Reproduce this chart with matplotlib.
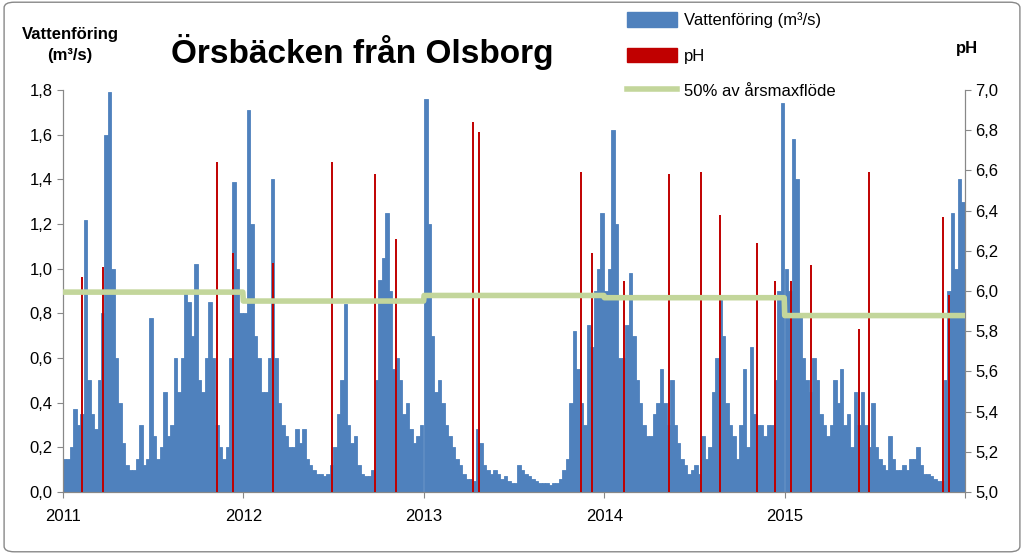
import numpy as np
import pandas as pd
import matplotlib
matplotlib.use("Agg")
import matplotlib.pyplot as plt
import matplotlib.dates as mdates
from matplotlib.patches import Patch, FancyBboxPatch
from matplotlib.lines import Line2D

years = [2011, 2012, 2013, 2014, 2015]
flow_2011 = [0.15,0.15,0.2,0.37,0.3,0.35,1.22,0.5,0.35,0.28,0.5,0.8,1.6,1.79,1.0,0.6,0.4,0.22,0.12,0.1,
             0.1,0.15,0.3,0.12,0.15,0.78,0.25,0.15,0.2,0.45,0.25,0.3,0.6,0.45,0.6,0.9,0.85,0.7,1.02,0.5,
             0.45,0.6,0.85,0.6,0.3,0.2,0.15,0.2,0.6,1.39,1.0,0.8]
flow_2012 = [0.8,1.71,1.2,0.7,0.6,0.45,0.45,0.6,1.4,0.6,0.4,0.3,0.25,0.2,0.2,0.28,0.22,0.28,0.15,0.12,
             0.1,0.08,0.08,0.07,0.08,0.12,0.2,0.35,0.5,0.84,0.3,0.22,0.25,0.12,0.08,0.07,0.07,0.1,0.5,0.95,
             1.05,1.25,0.9,0.55,0.6,0.5,0.35,0.4,0.28,0.22,0.25,0.3]
flow_2013 = [1.76,1.2,0.7,0.45,0.5,0.4,0.3,0.25,0.2,0.15,0.12,0.08,0.06,0.06,0.05,0.28,0.22,0.12,0.1,0.08,
             0.1,0.08,0.06,0.07,0.05,0.04,0.04,0.12,0.1,0.08,0.07,0.06,0.05,0.04,0.04,0.04,0.03,0.04,0.04,0.06,
             0.1,0.15,0.4,0.72,0.55,0.4,0.3,0.75,0.65,0.9,1.0,1.25]
flow_2014 = [0.9,1.0,1.62,1.2,0.6,0.6,0.75,0.98,0.7,0.5,0.4,0.3,0.25,0.25,0.35,0.4,0.55,0.4,0.3,0.5,
             0.3,0.22,0.15,0.12,0.08,0.1,0.12,0.08,0.25,0.15,0.2,0.45,0.6,0.87,0.7,0.4,0.3,0.25,0.15,0.3,
             0.55,0.2,0.65,0.35,0.3,0.3,0.25,0.3,0.3,0.5,0.9,1.74]
flow_2015 = [1.0,0.9,1.58,1.4,0.8,0.6,0.5,0.45,0.6,0.5,0.35,0.3,0.25,0.3,0.5,0.4,0.55,0.3,0.35,0.2,
             0.45,0.3,0.45,0.3,0.2,0.4,0.2,0.15,0.12,0.1,0.25,0.15,0.1,0.1,0.12,0.1,0.15,0.15,0.2,0.12,
             0.08,0.08,0.07,0.06,0.05,0.05,0.5,0.9,1.25,1.0,1.4,1.3,1.5]
flows = [flow_2011, flow_2012, flow_2013, flow_2014, flow_2015]

ph_dates = ["2011-02-08","2011-03-23","2011-11-09","2011-12-11","2012-03-01","2012-06-28",
            "2012-09-24","2012-11-05","2013-04-10","2013-04-22","2013-11-14","2013-12-07",
            "2014-02-10","2014-05-12","2014-07-16","2014-08-23","2014-11-06","2014-12-13",
            "2015-01-14","2015-02-23","2015-06-01","2015-06-21","2015-11-18","2015-11-30"]
ph_values = [6.07,6.12,6.64,6.19,6.14,6.64,6.58,6.26,6.84,6.79,6.59,6.19,
             6.05,6.58,6.59,6.38,6.24,6.05,6.05,6.13,5.81,6.59,6.37,5.98]

half_max = [0.895, 0.855, 0.88, 0.87, 0.79]

plt.rcParams["font.family"] = "Liberation Sans"

fig = plt.figure(figsize=(10.24, 5.54), dpi=100)
fig.patches.append(FancyBboxPatch((0.004, 0.004), 0.992, 0.992, boxstyle="round,pad=0,rounding_size=0.01",
                                  transform=fig.transFigure, fill=False, edgecolor="#888888", lw=1))
ax = fig.add_axes([63/1024, 1-492/554, (965-63)/1024, (492-90)/554])

dates, vals = [], []
for y, fl in zip(years, flows):
    d = pd.Timestamp(f"{y}-01-01") + pd.to_timedelta(np.arange(len(fl)) * 7, unit="D")
    dates.extend(d)
    vals.extend(fl)
ax.bar(dates, vals, width=7, align="edge", color="#4F81BD", edgecolor="#4F81BD", linewidth=0.6)

ax.set_xlim(pd.Timestamp("2011-01-01"), pd.Timestamp("2016-01-01"))
ax.set_ylim(0, 1.8)
yt = np.arange(0, 1.81, 0.2)
ax.set_yticks(yt)
ax.set_yticklabels([f"{v:.1f}".replace(".", ",") for v in yt], fontsize=12)
xt = [pd.Timestamp(f"{y}-01-01") for y in years] + [pd.Timestamp("2016-01-01")]
ax.set_xticks(xt)
ax.set_xticklabels([str(y) for y in years] + [""])
ax.tick_params(axis="x", labelsize=12, pad=8, length=4, color="#888888")
ax.tick_params(axis="y", length=4, color="#888888")
ax.spines["top"].set_visible(False)
for s in ["left", "bottom", "right"]:
    ax.spines[s].set_color("#888888")

gx, gy = [], []
for y, h in zip(years, half_max):
    gx += [pd.Timestamp(f"{y}-01-01"), pd.Timestamp(f"{y}-12-31")]
    gy += [h, h]

ax2 = ax.twinx()
ax2.set_ylim(5.0, 7.0)
ax2.vlines(pd.to_datetime(ph_dates), 5.0, ph_values, color="#C00000", linewidth=1.4, zorder=3)
ax2.patch.set_visible(False)
yt2 = np.arange(5.0, 7.01, 0.2)
ax2.set_yticks(yt2)
ax2.set_yticklabels([f"{v:.1f}".replace(".", ",") for v in yt2], fontsize=12)
ax2.tick_params(axis="y", length=4, color="#888888")
ax2.spines["top"].set_visible(False)
for s in ["left", "bottom", "right"]:
    ax2.spines[s].set_color("#888888")
ax.set_zorder(1)
ax2.set_zorder(2)
ax2.plot(gx, [5 + v * 2 / 1.8 for v in gy], color="#C3D69B", lw=4, zorder=5)

fig.text(362/1024, 1-52/554, "Örsbäcken från Olsborg", fontsize=24, fontweight="bold",
         ha="center", va="center")
fig.text(70/1024, 1-45/554, "Vattenföring\n(m³/s)", fontsize=12, fontweight="bold",
         ha="center", va="center", linespacing=1.5)
fig.text(967/1024, 1-48/554, "pH", fontsize=12, fontweight="bold", ha="center", va="center")

handles = [Patch(color="#4F81BD"), Patch(color="#C00000"),
           Line2D([0], [0], color="#C3D69B", lw=4)]
labels = ["Vattenföring (m³/s)", "pH", "50% av årsmaxflöde"]
fig.legend(handles, labels, loc="upper left", bbox_to_anchor=(612/1024, 1.005), frameon=False,
           fontsize=12, labelspacing=1.15, handlelength=3.0, handleheight=1.0, handletextpad=0.4)

fig.savefig("out.png", dpi=100)
